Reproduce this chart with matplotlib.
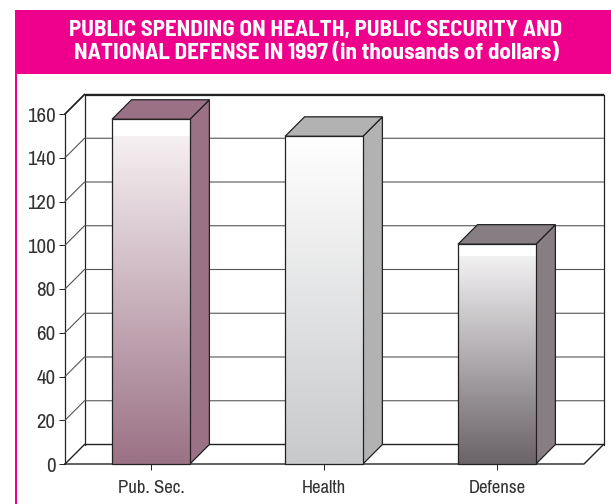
import matplotlib
matplotlib.use('Agg')
import matplotlib.pyplot as plt
from matplotlib.colors import LinearSegmentedColormap
from matplotlib.patches import Polygon, Rectangle
import numpy as np

categories = ['Pub. Sec.', 'Health', 'Defense']
values = [157.6, 149.8, 100.5]
y_ticks = [0, 20, 40, 60, 80, 100, 120, 140, 160]
title_lines = 'PUBLIC SPENDING ON HEALTH, PUBLIC SECURITY AND\nNATIONAL DEFENSE IN 1997 (in thousands of dollars)'

side_colors = ['#9b7285', '#b2b2b2', '#877e84']
grad_top = ['#f6f0f2', '#ffffff', '#f2f1f2']
grad_bottom = ['#9b7285', '#c8c9cb', '#6a6368']
# where the gradient starts, white above it
grad_start = [149.8, 149.8, 95]

W, H = 611, 504
MAGENTA = '#ee008c'
LINE = '#222222'
plt.rcParams['font.family'] = ['Archivo Narrow', 'Liberation Sans', 'DejaVu Sans']

fig = plt.figure(figsize=(W / 100, H / 100), dpi=100)

# pink header and left border
fig.add_artist(Rectangle((15 / W, 1 - 74 / H), (W - 15) / W, 64 / H, transform=fig.transFigure, color=MAGENTA, lw=0))
fig.add_artist(Rectangle((15 / W, 0), 2.2 / W, 1 - 74 / H, transform=fig.transFigure, color=MAGENTA, lw=0))
fig.text(316 / W, 1 - 41.5 / H, title_lines, color='white', fontsize=16.6, fontweight='bold',
         family=['Barlow Semi Condensed', 'Liberation Sans', 'DejaVu Sans'],
         ha='center', va='center', linespacing=1.2)

# front plane of the 3d box
left, right, bottom, top = 65, 584, 464, 114
ax = fig.add_axes([left / W, 1 - bottom / H, (right - left) / W, (bottom - top) / H])
ax.set_xlim(0, 3)
ax.set_ylim(0, 160)
for s in ax.spines.values():
    s.set_visible(False)
ax.patch.set_alpha(0)

dx = 19.5 / (right - left) * 3
dy = 19.5 / (bottom - top) * 160
bar_w = 0.45

# walls
ax.plot([dx, dx, 3 + dx, 3 + dx], [dy, 160 + dy, 160 + dy, dy], color=LINE, lw=0.9, clip_on=False)
ax.plot([0, 0], [0, 160], color=LINE, lw=0.9, clip_on=False)
for v in y_ticks:
    ax.plot([0, dx, 3 + dx], [v, v + dy, v + dy], color=LINE if v in (0, 160) else '#555555',
            lw=1.0 if v in (0, 160) else 0.8, clip_on=False)
ax.plot([0, 3, 3 + dx], [0, 0, dy], color=LINE, lw=1.0, clip_on=False)
ax.plot([0, dx], [160, 160 + dy], color=LINE, lw=1.0, clip_on=False)

# bars
xs = np.arange(len(categories)) + 0.497
for i, (x, v) in enumerate(zip(xs, values)):
    x0, x1 = x - bar_w / 2, x + bar_w / 2
    ax.add_patch(Polygon([(x1, 0), (x1 + dx, dy), (x1 + dx, v + dy), (x1, v)], fc=side_colors[i], ec=LINE, lw=0.9, zorder=3, clip_on=False))
    ax.add_patch(Polygon([(x0, v), (x0 + dx, v + dy), (x1 + dx, v + dy), (x1, v)], fc=side_colors[i], ec=LINE, lw=0.9, zorder=3, clip_on=False))
    ax.add_patch(Rectangle((x0, grad_start[i]), bar_w, v - grad_start[i], fc='white', lw=0, zorder=3))
    cmap = LinearSegmentedColormap.from_list('g', [grad_bottom[i], grad_top[i]])
    ax.imshow(np.linspace(0, 1, 256)[::-1].reshape(-1, 1), cmap=cmap, aspect='auto', zorder=3,
              extent=(x0, x1, 0, grad_start[i]), clip_on=False)
    ax.add_patch(Rectangle((x0, 0), bar_w, v, fc='none', ec=LINE, lw=0.9, zorder=4, clip_on=False))

ax.set_xlim(0, 3)
ax.set_ylim(0, 160)
ax.set_xticks(xs)
ax.set_xticklabels(categories)
ax.set_yticks(y_ticks)
ax.tick_params(axis='y', length=4.5, width=0.7, color=LINE, labelcolor='#333333', labelsize=15, pad=2.5)
ax.tick_params(axis='x', length=4.5, width=0.7, color=LINE, labelcolor='#333333', labelsize=13.5, pad=7)

fig.savefig('out.png', dpi=100)
